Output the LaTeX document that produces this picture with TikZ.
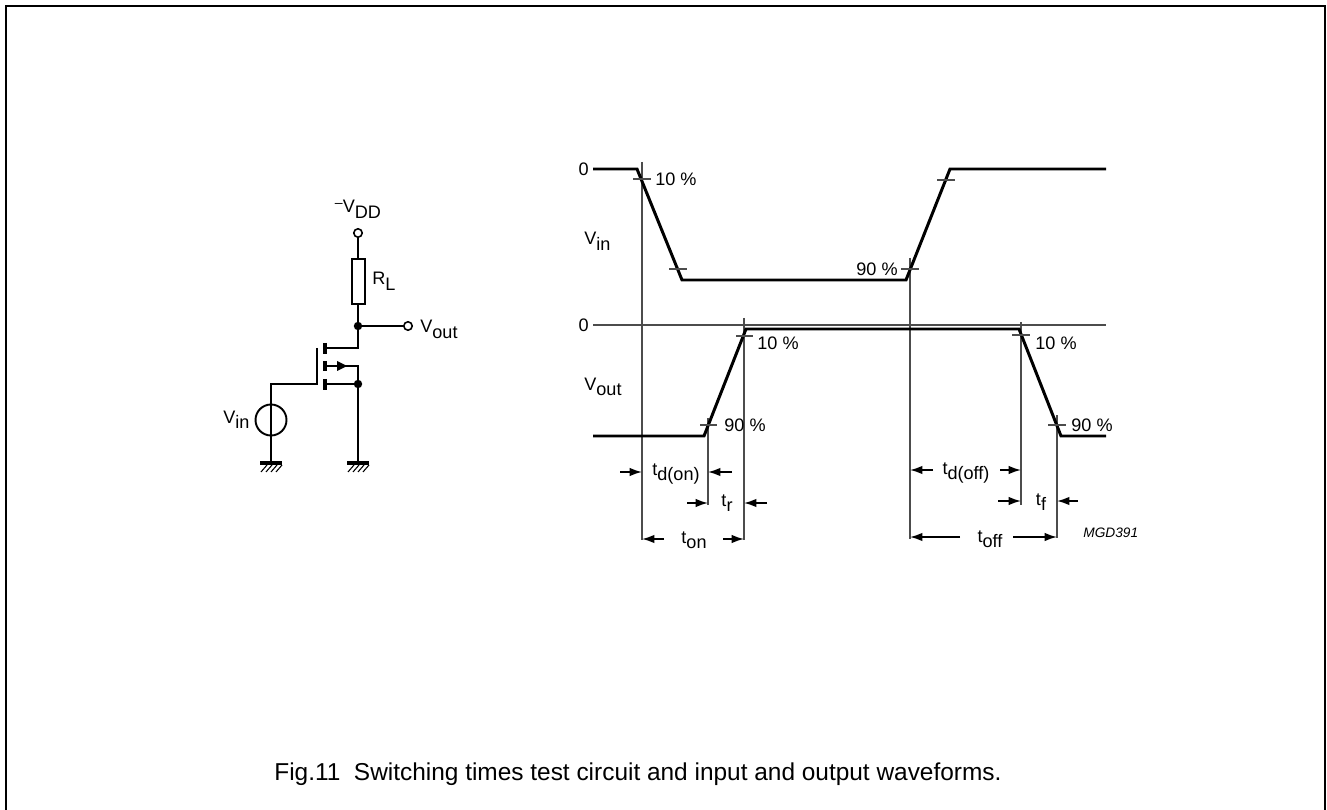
\documentclass[tikz,border=0pt]{standalone}
\usepackage{fontspec}
\setmainfont{Liberation Sans}
\usetikzlibrary{arrows.meta}
\newcommand{\lo}[1]{\raisebox{-0.32em}{#1}}
\tikzset{
  wave/.style={line width=1.7pt, line join=miter},
  guide/.style={line width=0.6pt, black!70},
  wire/.style={line width=1.1pt},
  stub/.style={line width=2pt},
  dimarrow/.style={line width=0.9pt, -{Latex[length=7pt,width=4.8pt]}},
  term/.style={circle, draw, line width=0.9pt, fill=white, inner sep=0pt, minimum size=4.8pt},
  junct/.style={circle, fill, inner sep=0pt, minimum size=4.8pt},
  lbl/.style={inner sep=0pt},
}
\begin{document}
\begin{tikzpicture}[x=0.02cm, y=-0.02cm, node font=\fontsize{10.3}{12}\selectfont]
  \useasboundingbox (0,0) rectangle (1327,810);
  \draw[line width=1.1pt] (6,810) -- (6,6) -- (1325,6) -- (1325,810);

  % test circuit
  \coordinate (vdd) at (358,233);
  \coordinate (rtop) at (358,259);
  \coordinate (rbot) at (358,304);
  \coordinate (out) at (358,326);
  \coordinate (outT) at (408,326);
  \coordinate (drn) at (358,348);
  \coordinate (sub) at (358,366);
  \coordinate (src) at (358,384);
  \coordinate (gate) at (271,384);
  \coordinate (vinC) at (271,420);
  \coordinate (gndL) at (271,463);
  \coordinate (gndR) at (358,463);

  \draw[wire] (vdd) -- (rtop);
  \draw[wire] (rbot) -- (out) -- (outT);
  \draw[wire] (out) -- (drn) -- (326,348);
  \draw[wire] (325,366) -- (sub) -- (src) -- (gndR);
  \draw[wire] (325,384) -- (src);
  \fill (337,361) -- (347,366) -- (337,371) -- cycle;
  \draw[stub] (325,343) -- (325,354);
  \draw[stub] (325,361) -- (325,371);
  \draw[stub] (325,379) -- (325,390);
  \draw[wire] (317,348) -- (317,384) -- (gate) -- (gndL);
  \draw[wire, fill=white] (352,259) rectangle (365,304);
  \draw[wire, fill=white] (vinC) circle (15.5);
  \draw[wire] (271,405) -- (271,435);
  \foreach \g in {271,358} {
    \draw[stub] (\g-11,463) -- (\g+11,463);
    \foreach \h in {-7,-2,3,8}
      \draw[line width=0.6pt] (\g+\h+3,465) -- (\g+\h-3,472);
  }
  \node[term] (vddT) at (vdd) {};
  \node[term] (outTT) at (outT) {};
  \node[junct] (outJ) at (out) {};
  \node[junct] (srcJ) at (src) {};

  \node[lbl, anchor=base] (vddlbl) at (358,213) {\raisebox{0.3em}{\fontsize{8}{9}\selectfont\textendash}V\lo{DD}};
  \node[lbl, anchor=base west] (rllbl) at (372,285) {R\lo{L}};
  \node[lbl, anchor=base west] (voutlbl) at (420,333) {V\lo{out}};
  \node[lbl, anchor=base west] (vinlbl) at (223,423) {V\lo{in}};

  % waveforms
  \draw[guide] (642,162) -- (642,540);
  \draw[guide] (910,258) -- (910,539);
  \draw[guide] (708,418) -- (708,505);
  \draw[guide] (744,318) -- (744,540);
  \draw[guide] (1021,322) -- (1021,505);
  \draw[guide] (1057,415) -- (1057,538);
  \draw[guide] (593,325) -- (1106,325);

  \draw[wave] (593,169) -- (637,169) -- (682,280) -- (906,280) -- (950,169) -- (1106,169);
  \draw[wave] (593,436) -- (704,436) -- (746,329) -- (1019,329) -- (1061,436) -- (1106,436);

  \draw[guide] (633,179) -- (651,179);
  \draw[guide] (669,269) -- (687,269);
  \draw[guide] (901,269) -- (919,269);
  \draw[guide] (937,180) -- (955,180);
  \draw[guide] (700,425) -- (717,425);
  \draw[guide] (736,336) -- (753,336);
  \draw[guide] (1012,335) -- (1030,335);
  \draw[guide] (1048,425) -- (1066,425);

  \node[lbl, anchor=east] (zin) at (589,169) {0};
  \node[lbl, anchor=east] (zout) at (589,325) {0};
  \node[lbl, anchor=base west] (wvin) at (584,245) {V\lo{in}};
  \node[lbl, anchor=base west] (wvout) at (584,390) {V\lo{out}};

  \node[lbl, anchor=west] (pa) at (655,179) {10 \%};
  \node[lbl, anchor=east] (pb) at (898,269) {90 \%};
  \node[lbl, anchor=west] (pc) at (757,343) {10 \%};
  \node[lbl, anchor=west] (pd) at (724,425) {90 \%};
  \node[lbl, anchor=west] (pe) at (1035,343) {10 \%};
  \node[lbl, anchor=west] (pf) at (1071,425) {90 \%};

  % switching times
  \draw[dimarrow] (620,472) -- (642,472);
  \draw[dimarrow] (732,472) -- (708,472);
  \node[lbl, anchor=base] (tdon) at (676,475) {t\lo{d(on)}};
  \draw[dimarrow] (687,503) -- (708,503);
  \draw[dimarrow] (767,503) -- (744,503);
  \node[lbl, anchor=base] (tr) at (727,506) {t\lo{r}};
  \draw[dimarrow] (664,539) -- (642,539);
  \draw[dimarrow] (723,539) -- (744,539);
  \node[lbl, anchor=base] (ton) at (694,543) {t\lo{on}};

  \draw[dimarrow] (933,470) -- (910,470);
  \draw[dimarrow] (1000,470) -- (1021,470);
  \node[lbl, anchor=base] (tdoff) at (966,474) {t\lo{d(off)}};
  \draw[dimarrow] (998,501) -- (1021,501);
  \draw[dimarrow] (1078,501) -- (1057,501);
  \node[lbl, anchor=base] (tf) at (1041,505) {t\lo{f}};
  \draw[dimarrow] (960,537) -- (910,537);
  \draw[dimarrow] (1013,537) -- (1057,537);
  \node[lbl, anchor=base] (toff) at (990,542) {t\lo{off}};

  \node[lbl, anchor=base west, font=\fontsize{7.8}{9}\selectfont\itshape] (code) at (1083,537) {MGD391};
  \node[lbl, anchor=base west, font=\fontsize{13.9}{16}\selectfont] (cap) at (274,780) {Fig.11\ \ Switching times test circuit and input and output waveforms.};
\end{tikzpicture}
\end{document}
